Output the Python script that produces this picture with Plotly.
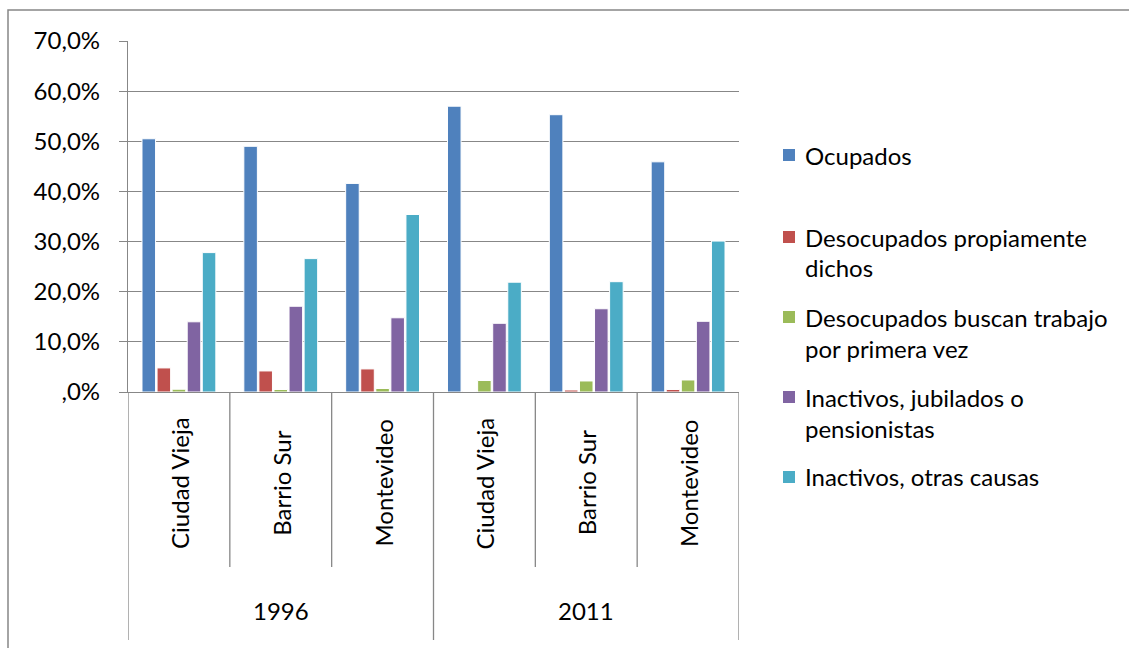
import plotly.graph_objects as go

# ---- data ----
years = ["1996", "1996", "1996", "2011", "2011", "2011"]
cities = ["Ciudad Vieja", "Barrio Sur", "Montevideo", "Ciudad Vieja", "Barrio Sur", "Montevideo"]
series_names = [
    "Ocupados",
    "Desocupados propiamente<br>dichos",
    "Desocupados buscan trabajo<br>por primera vez",
    "Inactivos, jubilados o<br>pensionistas",
    "Inactivos, otras causas",
]
ocupados = [50.5, 49.0, 41.6, 57.0, 55.3, 45.9]
desoc_propiamente = [4.8, 4.2, 4.6, 0.1, 0.4, 0.5]
desoc_primera_vez = [0.55, 0.5, 0.7, 2.3, 2.2, 2.4]
inact_jubilados = [14.0, 17.1, 14.8, 13.7, 16.6, 14.1]
inact_otras = [27.8, 26.6, 35.4, 21.9, 22.0, 30.1]
y_tickvals = [0, 10, 20, 30, 40, 50, 60, 70]
y_ticktext = [",0%", "10,0%", "20,0%", "30,0%", "40,0%", "50,0%", "60,0%", "70,0%"]

colors = ["#4F81BD", "#C0504D", "#9BBB59", "#8064A2", "#4BACC6"]
values = [ocupados, desoc_propiamente, desoc_primera_vez, inact_jubilados, inact_otras]

FONT = "Lato"
FS = 24
GRID = "#878787"

W, H = 1129, 648
L, R, T, B = 128, 390, 41, 256
PW = W - L - R
PH = H - T - B


def px_x(p):
    return (p - L) / PW


def px_y(p):
    return (H - B - p) / PH


cats = [f"{y} {c}" for y, c in zip(years, cities)]

fig = go.Figure()
for name, vals, col in zip(series_names, values, colors):
    fig.add_trace(go.Bar(
        x=cats, y=vals, name=name.replace("<br>", " "),
        marker=dict(color=col, line=dict(color="white", width=1)),
        showlegend=False,
    ))

shapes = []
# category dividers
for i in range(len(cats) + 1):
    pos = i - 0.5
    outer = (i == 0) or (i == len(cats)) or (years[i - 1] != years[i] if 0 < i < len(cats) else False)
    shapes.append(dict(type="line", xref="x", yref="paper", x0=pos, x1=pos,
                       y0=0, y1=px_y(640) if outer else px_y(567),
                       line=dict(color=GRID, width=1.3)))
# outer border
shapes.append(dict(type="rect", xref="paper", yref="paper",
                   x0=px_x(8), x1=px_x(1140), y0=px_y(10), y1=px_y(660),
                   line=dict(color=GRID, width=1.5), fillcolor="rgba(0,0,0,0)"))

annotations = []
for c, cat in zip(cities, cats):
    annotations.append(dict(x=cat, xref="x", y=px_y(483), yref="paper", text=c,
                            textangle=-90, showarrow=False,
                            xanchor="center", yanchor="middle",
                            font=dict(family=FONT, size=FS, color="black")))
seen = []
for i, y in enumerate(years):
    if y in seen:
        continue
    seen.append(y)
    idx = [j for j, v in enumerate(years) if v == y]
    mid = cats[idx[len(idx) // 2]]
    annotations.append(dict(x=mid, xref="x", y=px_y(610), yref="paper", text=y,
                            xanchor="center", yanchor="middle",
                            showarrow=False, font=dict(family=FONT, size=FS, color="black")))

# manual legend
legend_line_y = [[155], [237, 267], [317, 348], [397, 428], [477]]
for name, col, ys in zip(series_names, colors, legend_line_y):
    lines = name.split("<br>")
    shapes.append(dict(type="rect", xref="paper", yref="paper",
                       x0=px_x(783), x1=px_x(795), y0=px_y(ys[0] - 6), y1=px_y(ys[0] + 6),
                       fillcolor=col, line=dict(width=0)))
    for ln, yy in zip(lines, ys):
        annotations.append(dict(x=px_x(803), xref="paper", y=px_y(yy), yref="paper",
                                text=ln, xanchor="left", yanchor="middle", showarrow=False,
                                font=dict(family=FONT, size=FS, color="black")))

fig.update_layout(
    width=W, height=H, autosize=False,
    margin=dict(l=L, r=R, t=T, b=B, pad=0),
    paper_bgcolor="white", plot_bgcolor="white",
    barmode="group", bargap=0.26, bargroupgap=0.1,
    shapes=shapes, annotations=annotations,
    font=dict(family=FONT, size=FS, color="black"),
)
fig.update_yaxes(range=[0, 70], tickvals=y_tickvals, ticktext=y_ticktext,
                 showgrid=True, gridcolor=GRID, gridwidth=1.3,
                 showline=True, linecolor=GRID, linewidth=1.3,
                 ticks="outside", ticklen=8, tickcolor=GRID, tickwidth=1.3,
                 ticklabelstandoff=14, zeroline=False,
                 tickfont=dict(family=FONT, size=FS, color="black"))
fig.update_xaxes(range=[-0.5, 5.5], showticklabels=False, showline=True,
                 linecolor=GRID, linewidth=1.3, ticks="", showgrid=False)

fig.write_html("out.html")
